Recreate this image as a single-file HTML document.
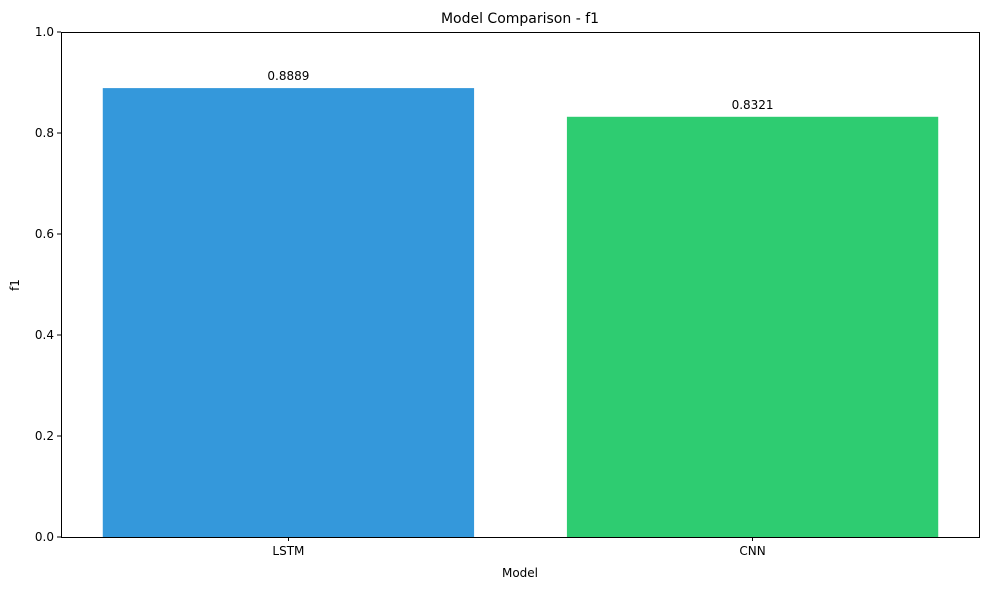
<!DOCTYPE html>
<html><head><meta charset="utf-8"><style>
body{margin:0;background:#fff;}
svg text{font-family:"DejaVu Sans","Liberation Sans",sans-serif;fill:#000;}
</style></head><body>
<svg id="chart" width="989" height="590" xmlns="http://www.w3.org/2000/svg">
<text x="520" y="23" font-size="14" text-anchor="middle">Model Comparison - f1</text>
<text x="520" y="577" font-size="12" text-anchor="middle">Model</text>
<text transform="translate(19,285) rotate(-90)" font-size="12" text-anchor="middle">f1</text>
<g id="plot"></g>
</svg>
<script>
const categories = ["LSTM", "CNN"];
const values = [0.8889, 0.8321];
const valueLabels = ["0.8889", "0.8321"];
const yTicks = [0, 0.2, 0.4, 0.6, 0.8, 1.0];
const yTickLabels = ["0.0", "0.2", "0.4", "0.6", "0.8", "1.0"];
const colors = ["#3498db", "#2ecc71"];

const L = 61, R = 980, T = 32, B = 537;
const xMin = -0.49, xMax = 1.49, yMin = 0, yMax = 1;
const xs = v => L + (v - xMin) / (xMax - xMin) * (R - L);
const ys = v => B - (v - yMin) / (yMax - yMin) * (B - T);
const NS = "http://www.w3.org/2000/svg";
const g = document.getElementById("plot");
function mk(tag, attrs, parent) {
  const e = document.createElementNS(NS, tag);
  for (const k in attrs) e.setAttribute(k, attrs[k]);
  (parent || g).appendChild(e);
  return e;
}
categories.forEach((c, i) => {
  const x0 = xs(i - 0.4), x1 = xs(i + 0.4);
  const bar = mk("rect", {x: x0, y: ys(values[i]), width: x1 - x0, height: ys(0) - ys(values[i]), fill: colors[i]});
  
  
  const lbl = mk("text", {x: xs(i), y: ys(values[i]) - 8, "font-size": 12, "text-anchor": "middle"});
  lbl.textContent = valueLabels[i];
  
  
  const t = mk("line", {x1: xs(i), x2: xs(i), y1: B, y2: B + 4, stroke: "#000", "stroke-width": 1, "shape-rendering": "crispEdges"});
  
  
  const tl = mk("text", {x: xs(i), y: B + 18, "font-size": 12, "text-anchor": "middle"});
  tl.textContent = c;
  
  
});
yTicks.forEach((v, i) => {
  const t = mk("line", {x1: L - 4, x2: L, y1: ys(v), y2: ys(v), stroke: "#000", "stroke-width": 1, "shape-rendering": "crispEdges"});
  
  
  const tl = mk("text", {x: L - 7, y: ys(v) + 4, "font-size": 12, "text-anchor": "end"});
  tl.textContent = yTickLabels[i];
  
  
});
const frame = mk("rect", {x: L + 0.5, y: T + 0.5, width: R - L - 1, height: B - T, fill: "none", stroke: "#000", "stroke-width": 1, "shape-rendering": "crispEdges"});


</script>
</body></html>
